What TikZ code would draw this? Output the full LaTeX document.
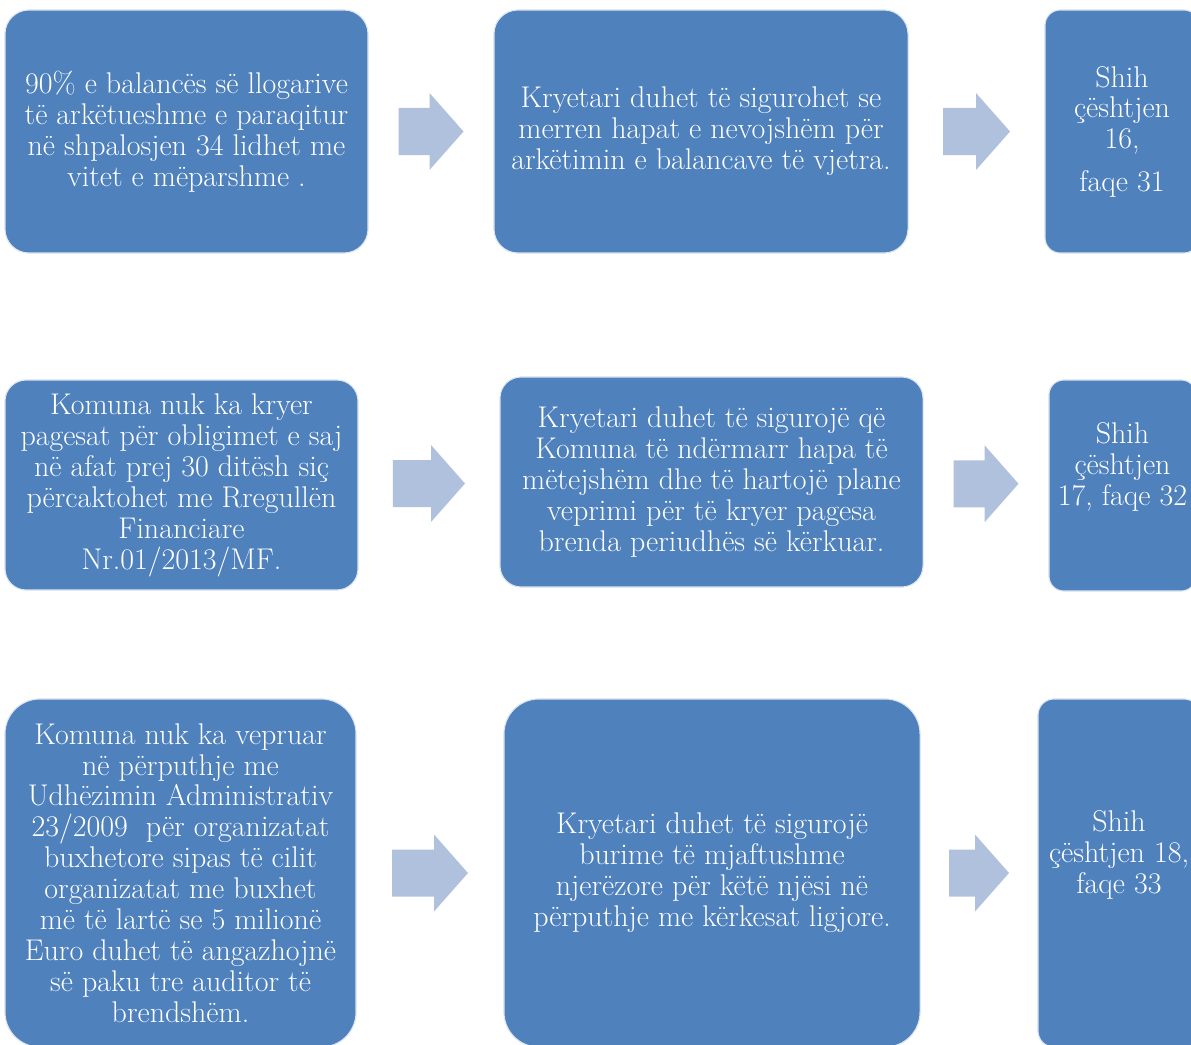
\documentclass[tikz,border=0pt]{standalone}
\usetikzlibrary{calc}
\definecolor{boxblue}{RGB}{79,129,189}
\definecolor{arrowblue}{RGB}{176,193,221}

\begin{document}
\begin{tikzpicture}[x=0.025cm,y=-0.025cm,
		card/.style={rectangle,fill=boxblue,draw=white!80!boxblue,line width=0.8pt,
			text=white,align=center,inner sep=0pt,
			font=\fontsize{21.3}{22}\selectfont},
		pics/flowarrow/.style={code={
			\fill[arrowblue] (-#1/2,-23.5) -- (#1/2-34,-23.5) -- (#1/2-34,-38.5)
			-- (#1/2,0) -- (#1/2-34,38.5) -- (#1/2-34,23.5) -- (-#1/2,23.5) -- cycle;}}]
		\path[use as bounding box,clip] (0,0) rectangle (1191,1045);
		% first row
		\node[card,minimum width=9.075cm,minimum height=6.075cm,rounded corners=0.6cm] (A1) at (186.5,131.5)
			{90\% e balancës së llogarive\\të arkëtueshme e paraqitur\\në shpalosjen 34 lidhet me\\vitet e mëparshme .};
		\node[card,minimum width=10.35cm,minimum height=6.075cm,rounded corners=0.6cm] (B1) at (701,131.5)
			{Kryetari duhet të sigurohet se\\merren hapat e nevojshëm për\\arkëtimin e balancave të vjetra.};
		\node[card,minimum width=3.85cm,minimum height=6.075cm,rounded corners=0.38cm] (C1) at (1122,131.5)
			{Shih\\çështjen\\16,\\[8pt]faqe 31};
		% second row
		\node[card,minimum width=8.825cm,minimum height=5.25cm,rounded corners=0.53cm] (A2) at (181.5,485)
			{Komuna nuk ka kryer\\pagesat për obligimet e saj\\në afat prej 30 ditësh siç\\përcaktohet me Rregullën\\Financiare\\Nr.01/2013/MF.};
		\node[card,minimum width=10.575cm,minimum height=5.25cm,rounded corners=0.53cm] (B2) at (711.5,482)
			{Kryetari duhet të sigurojë që\\Komuna të ndërmarr hapa të\\mëtejshëm dhe të hartojë plane\\veprimi për të kryer pagesa\\brenda periudhës së kërkuar.};
		\node[card,minimum width=3.675cm,minimum height=5.275cm,rounded corners=0.37cm] (C2) at (1122.5,485.5)
			{Shih\\çështjen\\17, faqe 32\\[8pt]~};
		% third row
		\node[card,minimum width=8.775cm,minimum height=8.7cm,rounded corners=0.87cm] (A3) at (180.5,873)
			{Komuna nuk ka vepruar\\në përputhje me\\Udhëzimin Administrativ\\23/2009\ \ për organizatat\\buxhetore sipas të cilit\\organizatat me buxhet\\më të lartë se 5 milionë\\Euro duhet të angazhojnë\\së paku tre auditor të\\brendshëm.};
		\node[card,minimum width=10.4cm,minimum height=8.7cm,rounded corners=0.87cm] (B3) at (712,873)
			{Kryetari duhet të sigurojë\\burime të mjaftushme\\njerëzore për këtë njësi në\\përputhje me kërkesat ligjore.};
		\node[card,minimum width=4.05cm,minimum height=8.7cm,rounded corners=0.4cm] (C3) at (1119,873)
			{Shih\\çështjen 18,\\faqe 33\\[8pt]~};
		% arrows between the boxes
		\pic (ar1) at ($(A1.east)!0.5!(B1.west)$) {flowarrow=65};
		\pic (ar2) at ($(B1.east)!0.5!(C1.west)$) {flowarrow=67};
		\pic (ar3) at ($(A2.east)!0.5!(B2.west)$) {flowarrow=72};
		\pic (ar4) at ($(B2.east)!0.5!(C2.west)$) {flowarrow=65};
		\pic (ar5) at ($(A3.east)!0.5!(B3.west)$) {flowarrow=76};
		\pic (ar6) at ($(B3.east)!0.5!(C3.west)$) {flowarrow=60};
	\end{tikzpicture}
\end{document}
